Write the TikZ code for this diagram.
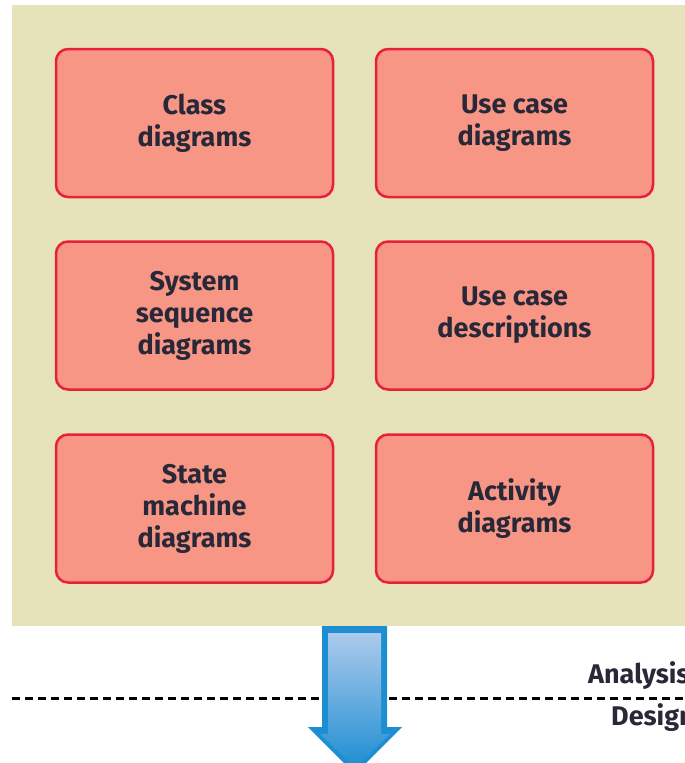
\documentclass[tikz,border=0pt]{standalone}
\usepackage{fontspec}
\setmainfont{Fira Sans}
\definecolor{panelbg}{RGB}{230,226,185}
\definecolor{boxfill}{RGB}{247,150,133}
\definecolor{boxline}{RGB}{232,33,58}
\definecolor{labeltext}{RGB}{40,40,56}
\definecolor{arrowblue}{RGB}{30,142,210}
\definecolor{arrowlight}{RGB}{172,202,236}
\tikzset{
	diagbox/.style={draw=boxline, fill=boxfill, line width=2.5pt, rounded corners=12pt,
		minimum width=277pt, minimum height=148pt, align=center, inner sep=0pt,
		text=labeltext, font=\fontsize{27}{32}\selectfont\bfseries},
	phase/.style={anchor=base west, inner sep=0pt, text=labeltext,
		font=\fontsize{27}{31}\selectfont\bfseries}
}
\begin{document}
\begin{tikzpicture}[x=1pt, y=1pt]
		\clip (0, 0) rectangle (685, -763);
		\fill[panelbg] (12, -5) rectangle (685, -626);

		\node[diagbox] (class) at (194.5, -123) {Class\\diagrams};
		\node[diagbox] (usecase) at (514.5, -123) {Use case\\diagrams};
		\node[diagbox] (ssd) at (194.5, -315.5) {System\\sequence\\diagrams};
		\node[diagbox] (ucdesc) at (514.5, -315.5) {Use case\\descriptions};
		\node[diagbox] (state) at (194.5, -508.5) {State\\machine\\diagrams};
		\node[diagbox] (activity) at (514.5, -508.5) {Activity\\diagrams};

		\draw[line width=3pt, dash pattern=on 8pt off 5pt] (12, -698) -- (685, -698);
		\node[phase] (analysis) at (588, -683) {Analysis};
		\node[phase] (design) at (611, -725) {Design};

		% big arrow
		\fill[arrowblue] (322, -626) -- (387, -626) -- (387, -727) -- (402, -727)
			-- (355, -774) -- (308, -727) -- (322, -727) -- cycle;
		\shade[top color=arrowlight, bottom color=arrowblue]
			(328, -633) -- (381, -633) -- (381, -734) -- (390, -734)
			-- (355, -768) -- (320, -734) -- (328, -734) -- cycle;
	\end{tikzpicture}
\end{document}
